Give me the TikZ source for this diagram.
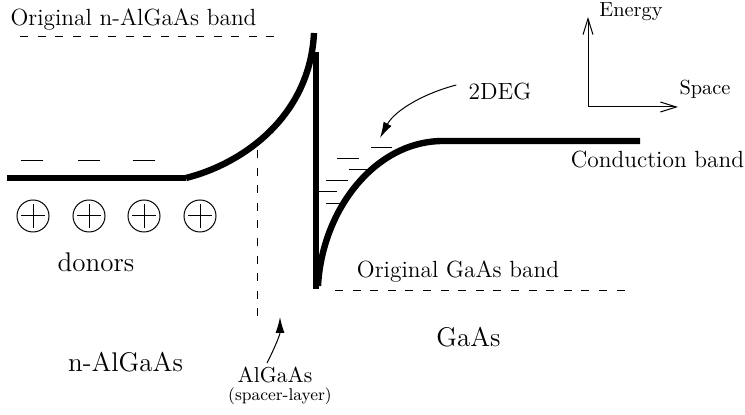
\documentclass[tikz,border=0pt]{standalone}
\usetikzlibrary{arrows.meta}
\begin{document}
\begin{tikzpicture}[x=0.5pt,y=-0.5pt,
  band/.style={line width=3.2pt},
  thindash/.style={line width=0.5pt,dash pattern=on 4pt off 4.8pt},
  level/.style={line width=0.45pt},
  lbl/.style={anchor=base,inner sep=0pt,font=\fontsize{11.7}{13}\selectfont},
  biglbl/.style={anchor=base,inner sep=0pt,font=\fontsize{13.5}{16}\selectfont},
  axlbl/.style={anchor=base,inner sep=0pt,font=\fontsize{10.2}{12}\selectfont},
  donor/.style={circle,draw,line width=0.5pt,minimum size=16pt,inner sep=0pt},
  pointer/.style={line width=0.5pt,-{Latex[length=8pt,width=4.5pt]}},
  axis/.style={line width=0.5pt,-{Straight Barb[length=8pt,width=5pt]}}]
\useasboundingbox (0,0) rectangle (745,415);

% band diagram
\draw[band] (7,178) -- (186,178);
\draw[band] (186,178) .. controls (245,163) and (310,115) .. (314,33);
\draw[band] (316,52) -- (316,289);
\draw[band] (318,286) .. controls (322,210) and (375,141) .. (443,141) -- (640,141);

% original bands and spacer boundary
\draw[thindash] (20,37) -- (280,37);
\draw[thindash] (335,291) -- (628,291);
\draw[thindash] (257,150) -- (257,316);

% electrons on the left
\foreach \x in {32,89,144} \draw[level] (\x-11,160) -- (\x+11,160);

% donors
\foreach \i/\x in {1/33,2/89,3/144,4/200}{
  \node[donor] (d\i) at (\x,216) {};
  \draw[line width=0.5pt] (d\i.center) ++(-5.8pt,0) -- ++(11.6pt,0)
                          (d\i.center) ++(0,-5.8pt) -- ++(0,11.6pt);
}

% 2DEG levels
\draw[level] (371,147) -- (392,147);
\draw[level] (337,158) -- (359,158);
\draw[level] (349,169) -- (371,169);
\draw[level] (326,180) -- (348,180);
\draw[level] (318,191) -- (337,191);
\draw[level] (326,203) -- (344,203);
\coordinate (lev) at (380,138);

% labels
\node[lbl] (origA) at (133.5,26) {Original n-AlGaAs band};
\node[lbl] (origG) at (458,278) {Original GaAs band};
\node[lbl] (cond) at (657.5,168) {Conduction band};
\node[lbl] (deg) at (500,100) {2DEG};
\node[biglbl] (don) at (96,272) {donors};
\node[biglbl] (nal) at (125.5,372) {n-AlGaAs};
\node[biglbl] (gaas) at (468.5,347) {GaAs};
\node[anchor=base,inner sep=0pt,font=\fontsize{10.8}{12}\selectfont] (alg) at (275,383) {AlGaAs};
\node[anchor=base,inner sep=0pt,font=\fontsize{8.5}{10}\selectfont] (spc) at (280,401) {(spacer-layer)};
\coordinate (spt) at (280,317);

% pointers
\draw[pointer] ([xshift=-6pt,yshift=3.5pt]deg.west) .. controls (425,93) and (395,110) .. (lev);
\draw[pointer] ([xshift=-4pt,yshift=2pt]alg.north) .. controls (275,347) and (280,335) .. (spt);

% axes
\coordinate (o) at (588,107);
\coordinate (ey) at (588,17);
\coordinate (sx) at (678,107);
\draw[axis] (o) -- (ey);
\draw[axis] (o) -- (sx);
\node[axlbl] (en) at (631,17) {Energy};
\node[axlbl] (sp) at (705,95) {Space};
\end{tikzpicture}
\end{document}
